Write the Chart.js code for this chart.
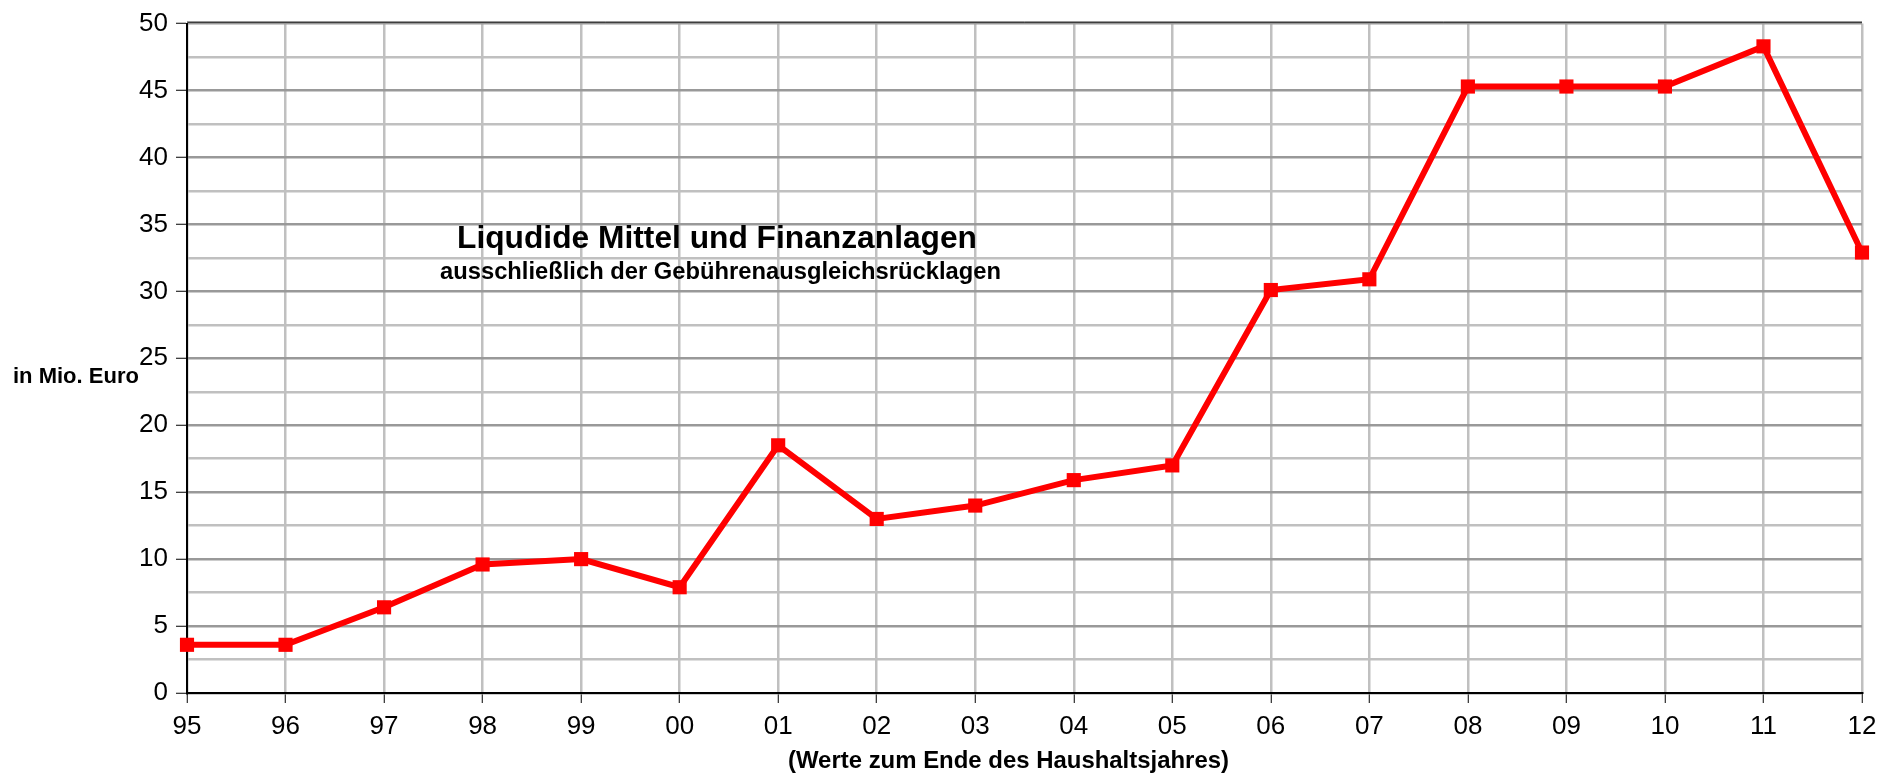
<!DOCTYPE html>
<html>
<head>
<meta charset="utf-8">
<script src="https://cdn.jsdelivr.net/npm/chart.js@4"></script>
<style>
    html, body { margin: 0; padding: 0; background: #fff; }
    #wrap { width: 1885px; height: 773px; position: relative; }
</style>
</head>
<body>
<div id="wrap"><canvas id="liquidityChart"></canvas></div>
<script>
// Values (Mio. Euro at year end)
const years = ['95', '96', '97', '98', '99', '00', '01', '02', '03', '04', '05', '06', '07', '08', '09', '10', '11', '12'];
const liquidity = [3.6, 3.6, 6.4, 9.6, 10.0, 7.9, 18.5, 13.0, 14.0, 15.9, 17.0, 30.1, 30.9, 45.3, 45.3, 45.3, 48.3, 32.9];

const titleText = 'Liqudide Mittel und Finanzanlagen';
const subtitleText = 'ausschließlich der Gebührenausgleichsrücklagen';
const xTitleText = '(Werte zum Ende des Haushaltsjahres)';
const yTitleText = 'in Mio. Euro';

const fontFamily = "'Liberation Sans', Arial, sans-serif";

// Draw text stretched to a given width (the original text is a bit wider than normal)
function drawStretched(ctx, text, size, left, baseline, width) {
    ctx.save();
    ctx.font = 'bold ' + size + 'px ' + fontFamily;
    ctx.fillStyle = '#000';
    ctx.textBaseline = 'alphabetic';
    ctx.textAlign = 'left';
    const w = ctx.measureText(text).width;
    ctx.translate(left, baseline);
    ctx.scale(width ? width / w : 1, 1);
    ctx.fillText(text, 0, 0);
    ctx.restore();
}

const labelsPlugin = {
    id: 'labelsPlugin',
    afterDraw(chart) {
        const ctx = chart.ctx;
        const area = chart.chartArea;
        // thin black line on top of the plot frame
        ctx.save();
        ctx.strokeStyle = '#000';
        ctx.lineWidth = 1;
        ctx.beginPath();
        ctx.moveTo(area.left, area.top - 1.5);
        ctx.lineTo(area.right, area.top - 1.5);
        ctx.stroke();
        ctx.restore();

        drawStretched(ctx, titleText, 31, 457, 248, 520);
        drawStretched(ctx, subtitleText, 23, 440, 279, 561);
        drawStretched(ctx, xTitleText, 24, 788, 768, 441);
        drawStretched(ctx, yTitleText, 22, 13, 383, 0);
    }
};

new Chart(document.getElementById('liquidityChart'), {
    type: 'line',
    data: {
        labels: years,
        datasets: [{
            data: liquidity,
            borderColor: '#ff0000',
            backgroundColor: '#ff0000',
            borderWidth: 6,
            tension: 0,
            pointStyle: 'rect',
            pointRadius: 10,
            pointBorderWidth: 0,
            pointBackgroundColor: '#ff0000',
            clip: false
        }]
    },
    options: {
        responsive: true,
        maintainAspectRatio: false,
        animation: false,
        layout: { padding: { top: 19, right: 23, left: 0, bottom: 0 } },
        plugins: {
            legend: { display: false },
            tooltip: { enabled: false }
        },
        scales: {
            x: {
                offset: false,
                grid: {
                    color: '#c0c0c0',
                    lineWidth: 2.5,
                    tickColor: '#000',
                    tickLength: 10,
                    tickWidth: 1
                },
                border: { color: '#000', width: 2 },
                ticks: {
                    color: '#000',
                    font: { family: fontFamily, size: 26 },
                    padding: 8,
                    maxRotation: 0,
                    autoSkip: false
                },
                afterFit(scale) { scale.height = 80; }
            },
            y: {
                min: 0,
                max: 50,
                grid: {
                    color: (c) => (c.tick && c.tick.value % 5 === 0) ? '#999999' : '#c0c0c0',
                    lineWidth: 2.5,
                    tickColor: (c) => (c.tick && c.tick.value % 5 === 0) ? '#000' : 'rgba(0,0,0,0)',
                    tickLength: 11,
                    tickWidth: 1
                },
                border: { color: '#000', width: 2 },
                ticks: {
                    stepSize: 2.5,
                    autoSkip: false,
                    color: '#000',
                    font: { family: fontFamily, size: 26 },
                    padding: 8,
                    callback: (v) => v % 5 === 0 ? v : ''
                },
                afterFit(scale) { scale.width = 187; }
            }
        }
    },
    plugins: [labelsPlugin]
});
</script>
</body>
</html>
